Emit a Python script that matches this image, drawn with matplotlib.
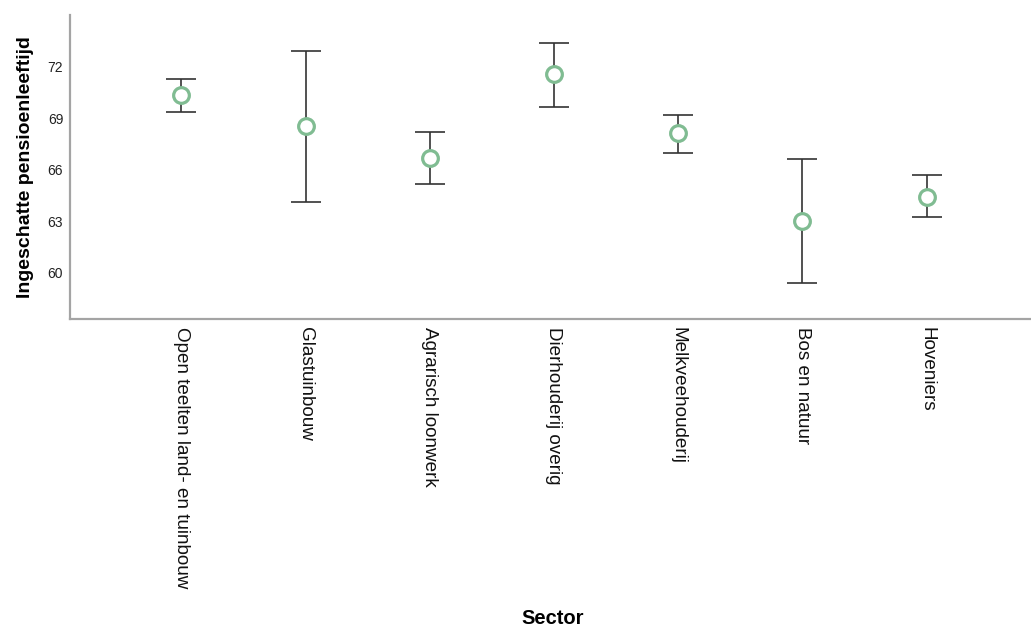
import numpy as np
import matplotlib
matplotlib.use("Agg")
import matplotlib.pyplot as plt

# ---- data (mean and error-bar ends) ---------------------------------------------
sectors = ["Open teelten land- en tuinbouw", "Glastuinbouw", "Agrarisch loonwerk",
           "Dierhouderij overig", "Melkveehouderij", "Bos en natuur", "Hoveniers"]
means = [70.32, 68.52, 66.68, 71.54, 68.11, 63.02, 64.41]
upper = [71.27, 72.93, 68.17, 73.36, 69.21, 66.62, 65.67]
lower = [69.37, 64.12, 65.15, 69.66, 66.99, 59.38, 63.22]
yticks = [60, 63, 66, 69, 72]

GREEN = "#80bc92"
INK = "#333333"
AXIS = "#a4a4a4"

plt.rcParams.update({"font.family": ["Liberation Sans", "DejaVu Sans"]})
fig = plt.figure(figsize=(10.31, 6.27), dpi=100)
ax = fig.add_axes([0.068, 0.491, 0.932, 0.485])

x = np.arange(len(sectors))
m = np.array(means)
err = np.vstack([m - np.array(lower), np.array(upper) - m])
ax.errorbar(x, m, yerr=err, fmt="none", ecolor=INK, elinewidth=1.2,
            capsize=11, capthick=1.2, zorder=2)
ax.plot(x, m, ls="", marker="o", ms=11.3, mfc="white", mec=GREEN, mew=2.3, zorder=3)

ax.set_xlim(-0.895, 6.84)
ax.set_ylim(57.3, 75.0)
ax.set_yticks(yticks)
ax.set_yticklabels([str(t) for t in yticks], fontsize=10, color="#222222")
ax.set_xticks(x)
ax.set_xticklabels(sectors, rotation=270, fontsize=13.6, va="top", ha="center",
                   color="#111111")
ax.tick_params(axis="both", length=0)
ax.tick_params(axis="y", pad=5)
ax.tick_params(axis="x", pad=6)

for side in ["top", "right"]:
    ax.spines[side].set_visible(False)
for side in ["left", "bottom"]:
    ax.spines[side].set_color(AXIS)
    ax.spines[side].set_linewidth(1.6)

ax.set_ylabel("Ingeschatte pensioenleeftijd", fontsize=14, fontweight="bold",
              color="#000000", labelpad=10)
fig.text(553 / 1031, 1 - 618 / 627, "Sector", fontsize=14.5, fontweight="bold",
         ha="center", va="center")

fig.savefig("out.png", dpi=100, facecolor="white")
